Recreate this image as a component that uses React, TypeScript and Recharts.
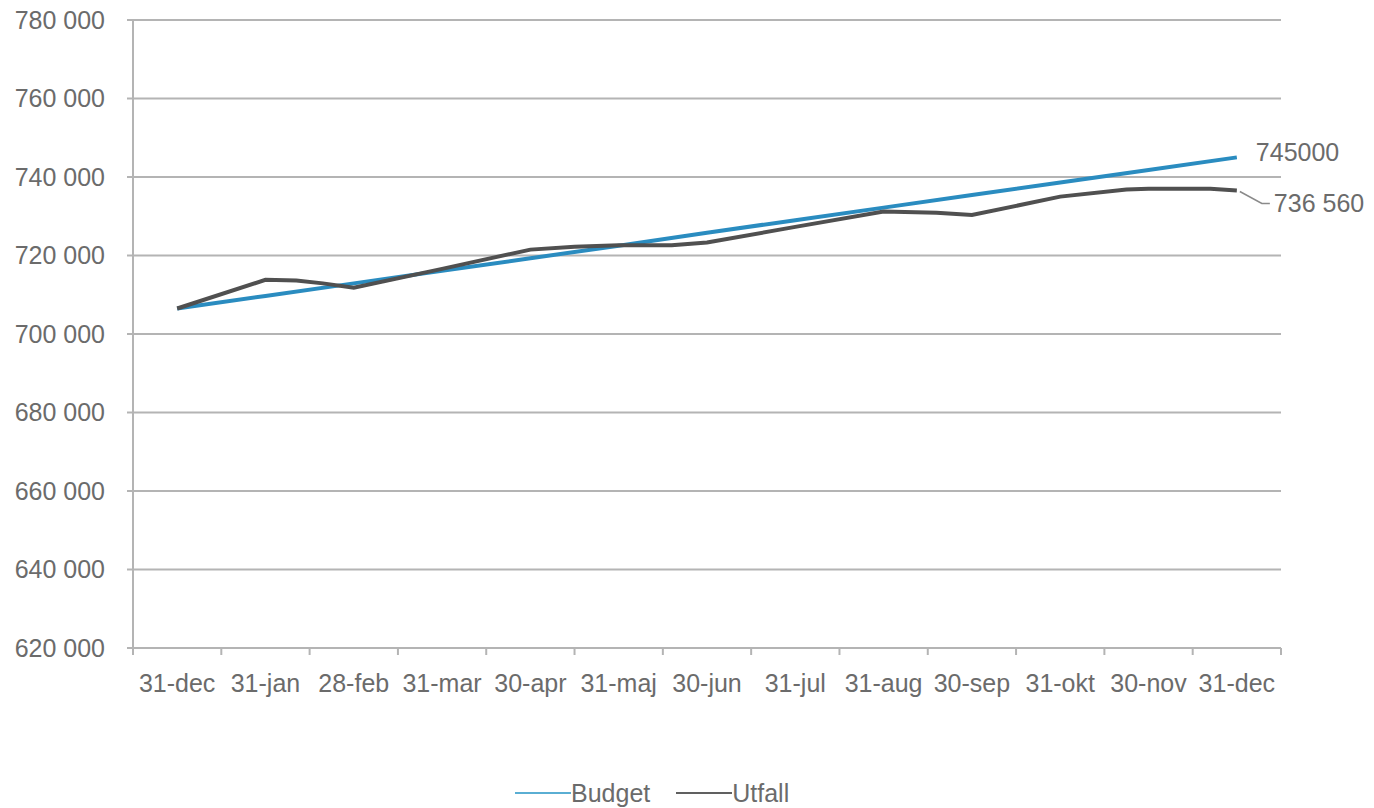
import { LineChart, Line, XAxis, YAxis, CartesianGrid, Legend, LabelList } from 'recharts';

const months = ['31-dec', '31-jan', '28-feb', '31-mar', '30-apr', '31-maj', '30-jun', '31-jul', '31-aug', '30-sep', '31-okt', '30-nov', '31-dec'];
const budget = [706500, 709700, 712900, 716100, 719300, 722500, 725800, 729000, 732200, 735400, 738600, 741800, 745000];

// utfall has a few readings between month ends
const utfallPos = [0, 1, 1.35, 1.65, 2, 3, 4, 4.5, 5, 5.6, 6, 7, 8, 8.6, 9, 10, 10.75, 11, 11.7, 12];
const utfall = [706500, 713800, 713600, 712900, 711800, 716600, 721500, 722200, 722600, 722600, 723300, 727300, 731200, 730900, 730300, 735000, 736800, 737000, 737000, 736560];

const yTicks = [620000, 640000, 660000, 680000, 700000, 720000, 740000, 760000, 780000];
const monthTicks = months.map((_, i) => i);
// labels sit on whole months, tick marks between them
const xTicks = [-0.5, ...monthTicks.flatMap(i => [i, i + 0.5])];

const positions = Array.from(new Set([...monthTicks, ...utfallPos])).sort((a, b) => a - b);
const data = positions.map(x => {
  const bi = Number.isInteger(x) ? x : -1;
  const ui = utfallPos.indexOf(x);
  return {
    x,
    budget: bi >= 0 ? budget[bi] : undefined,
    utfall: ui >= 0 ? utfall[ui] : undefined,
  };
});
const last = data.length - 1;

const FONT = '"Liberation Sans", Arial, sans-serif';
const FS = 25;
const TEXT = '#6b6b6b';
const GRID = '#b4b4b4';
const BLUE = '#2a8cc0';
const DARK = '#505050';
const X_MARGIN = 26;

const fmt = (v: number) => v.toLocaleString('en-US').replace(/,/g, ' ');

function XTick(props: any) {
  const { x, y, payload } = props;
  const v = payload.value;
  if (Number.isInteger(v)) {
    return (
      <text x={x} y={y} dy="0.71em" textAnchor="middle" fill={TEXT} fontSize={FS} fontFamily={FONT}>
        {months[v]}
      </text>
    );
  }
  const top = y - X_MARGIN;
  return <line x1={x} x2={x} y1={top} y2={top + 7} stroke={GRID} strokeWidth={2} />;
}

function BudgetLabel(props: any) {
  const { x, y, index } = props;
  if (index !== last) return null;
  return (
    <text x={x + 19} y={y - 5} dy="0.35em" fill={TEXT} fontSize={FS} fontFamily={FONT}>
      {String(budget[budget.length - 1])}
    </text>
  );
}

function UtfallLabel(props: any) {
  const { x, y, index } = props;
  if (index !== last) return null;
  return (
    <g>
      <polyline points={`${x + 3},${y + 1} ${x + 25},${y + 13} ${x + 33},${y + 13}`} fill="none" stroke="#8a8a8a" strokeWidth={1.5} />
      <text x={x + 37} y={y + 13} dy="0.35em" fill={TEXT} fontSize={FS} fontFamily={FONT}>
        {fmt(utfall[utfall.length - 1])}
      </text>
    </g>
  );
}

function LegendContent() {
  const items = [
    { name: 'Budget', color: '#5aaed3' },
    { name: 'Utfall', color: '#606060' },
  ];
  return (
    <div style={{ display: 'flex', height: 40, paddingTop: 10, paddingLeft: 515, boxSizing: 'border-box', fontFamily: FONT, fontSize: FS, color: TEXT, lineHeight: '28px' }}>
      {items.map(it => (
        <div key={it.name} style={{ display: 'flex', alignItems: 'center', marginRight: 26 }}>
          <div style={{ width: 56, height: 2, background: it.color }} />
          <span>{it.name}</span>
        </div>
      ))}
    </div>
  );
}

export default function App() {
  return (
    <div style={{ position: 'absolute', left: 0, top: 0, width: 1374, height: 808 }}>
      <LineChart width={1374} height={808} data={data} margin={{ top: 20, right: 93, bottom: 0, left: 0 }}>
        <CartesianGrid vertical={false} stroke={GRID} strokeWidth={2} />
        <XAxis
          dataKey="x"
          type="number"
          domain={[-0.5, 12.5]}
          ticks={xTicks}
          interval={0}
          tick={<XTick />}
          tickLine={false}
          axisLine={{ stroke: GRID, strokeWidth: 2 }}
          tickSize={0}
          tickMargin={X_MARGIN}
          height={120}
        />
        <YAxis
          type="number"
          domain={[620000, 780000]}
          ticks={yTicks}
          interval={0}
          width={133}
          tickSize={6}
          tickMargin={22}
          tickFormatter={fmt}
          axisLine={{ stroke: GRID, strokeWidth: 2 }}
          tickLine={{ stroke: GRID, strokeWidth: 2 }}
          tick={{ fill: TEXT, fontSize: FS, fontFamily: FONT }}
        />
        <Legend verticalAlign="bottom" height={40} content={<LegendContent />} />
        <Line dataKey="budget" stroke={BLUE} strokeWidth={4} dot={false} connectNulls isAnimationActive={false}>
          <LabelList dataKey="budget" content={<BudgetLabel />} />
        </Line>
        <Line dataKey="utfall" stroke={DARK} strokeWidth={4} dot={false} connectNulls isAnimationActive={false}>
          <LabelList dataKey="utfall" content={<UtfallLabel />} />
        </Line>
      </LineChart>
    </div>
  );
}
